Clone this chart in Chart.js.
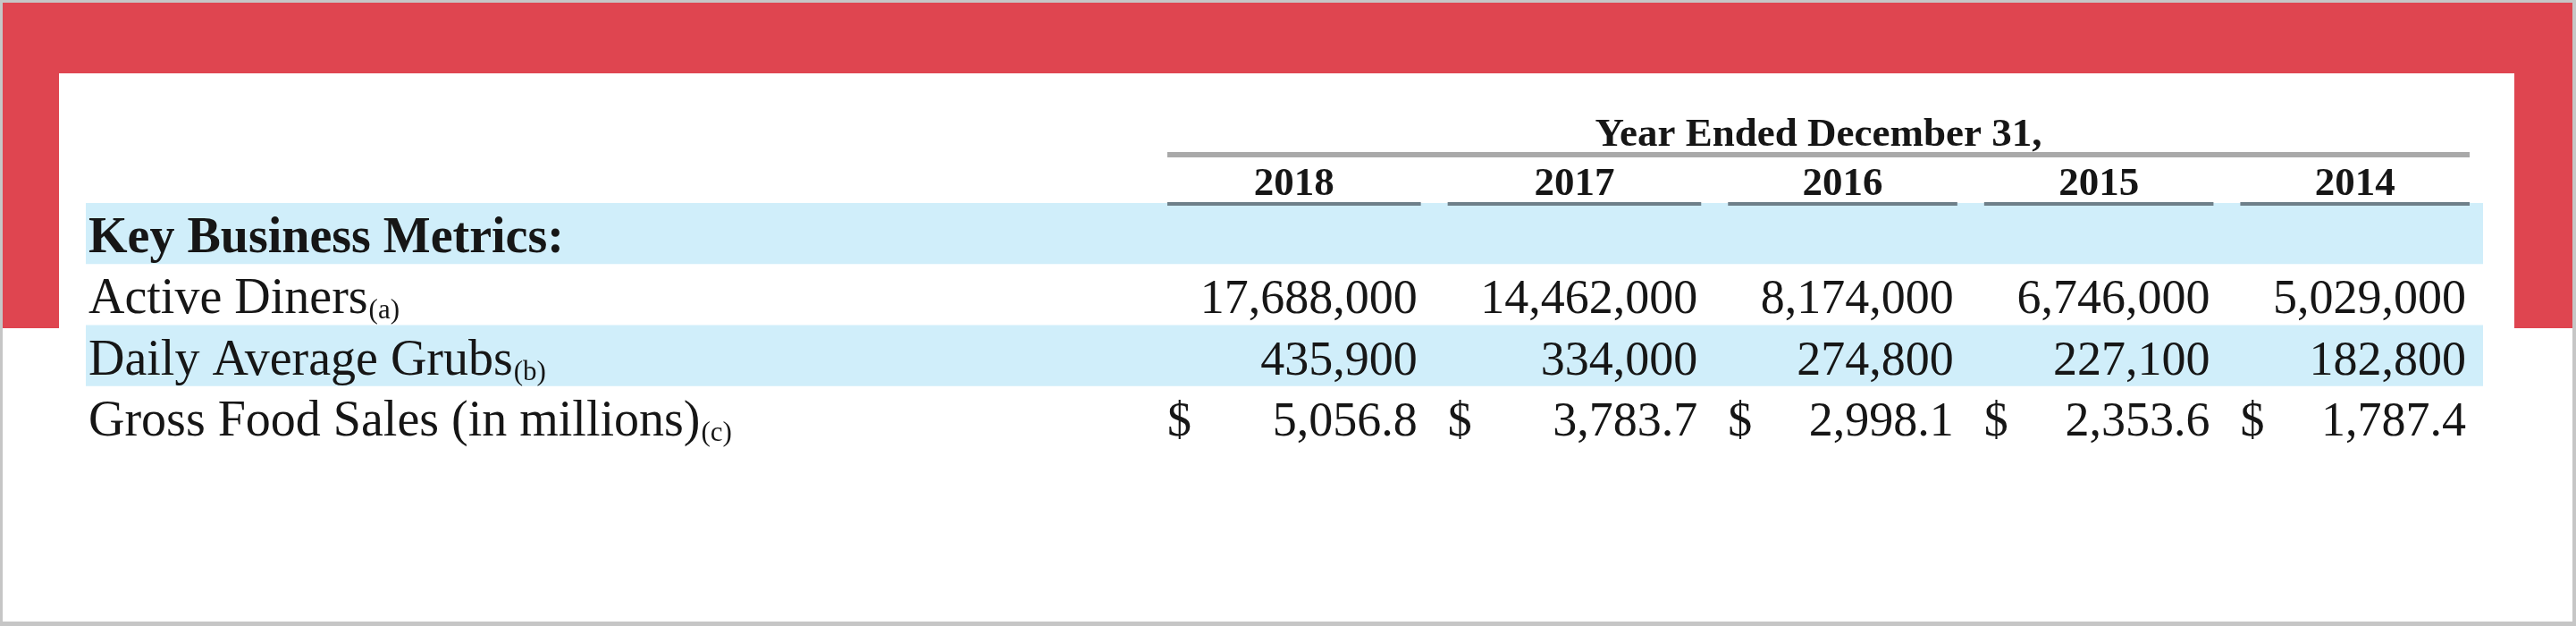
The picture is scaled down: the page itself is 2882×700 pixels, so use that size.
<!DOCTYPE html>
<html>
<head>
<meta charset="utf-8">
<title>Key Business Metrics</title>
<script src="https://cdn.jsdelivr.net/npm/chart.js@4.4.1/dist/chart.umd.min.js"></script>
<style>
  html, body { margin: 0; padding: 0; background: #fff; overflow: hidden; }
  canvas { display: block; }
</style>
</head>
<body>
<canvas id="metrics" width="2882" height="700"></canvas>
<script>
'use strict';

// table content
const headerTitle = 'Year Ended December 31,';
const years = ['2018', '2017', '2016', '2015', '2014'];
const rowNames = ['Key Business Metrics:', 'Active Diners', 'Daily Average Grubs', 'Gross Food Sales (in millions)'];
const rowNotes = ['', '(a)', '(b)', '(c)'];
const activeDiners = [17688000, 14462000, 8174000, 6746000, 5029000];
const dailyAverageGrubs = [435900, 334000, 274800, 227100, 182800];
const grossFoodSales = [5056.8, 3783.7, 2998.1, 2353.6, 1787.4];

const SERIF = '"Liberation Serif", "Times New Roman", serif';
const INK = '#161616';
const RED = '#df4550';
const BAND = '#d0eefa';
const CELL_FONT = '54px ' + SERIF;

function fmtInt(v) {
    return v.toLocaleString('en-US');
}
function fmtMoney(v) {
    return v.toLocaleString('en-US', { minimumFractionDigits: 1, maximumFractionDigits: 1 });
}

// column widths follow their widest entry, like a typeset table
const measure = document.createElement('canvas').getContext('2d');
measure.font = CELL_FONT;
const colW = years.map((_, i) => {
    const texts = [fmtInt(activeDiners[i]), fmtInt(dailyAverageGrubs[i]), '$ ' + fmtMoney(grossFoodSales[i])];
    return Math.max(...texts.map(t => measure.measureText(t).width)) + 70;
});
const colMid = [];
colW.reduce((acc, w) => { colMid.push(acc + w / 2); return acc + w; }, 0);
const colTotal = colW.reduce((a, b) => a + b, 0);

function cells(values, row) {
    return values.map((v, i) => ({ x: colMid[i], y: rowNames[row], v: v }));
}

// frame, bands, headers, labels and cell text
const tablePlugin = {
    id: 'table',
    beforeDraw(chart) {
        const ctx = chart.ctx;
        const W = chart.width, H = chart.height;
        ctx.save();
        ctx.fillStyle = '#c6c6c6';
        ctx.fillRect(0, 0, W, H);
        ctx.fillStyle = '#fff';
        ctx.fillRect(3, 3, W - 7, H - 8);
        ctx.fillStyle = RED;
        ctx.fillRect(3, 3, W - 7, 79);
        ctx.fillRect(3, 3, 63, 364);
        ctx.fillRect(2813, 3, 65, 364);
        ctx.restore();
    },
    beforeDatasetsDraw(chart) {
        const ctx = chart.ctx;
        const x = chart.scales.x, y = chart.scales.y;
        const pitch = y.height / rowNames.length;
        ctx.save();
        ctx.fillStyle = BAND;
        [0, 2].forEach(r => {
            const cy = y.getPixelForValue(r);
            ctx.fillRect(96, cy - pitch / 2, x.right - 96, pitch);
        });
        ctx.restore();
    },
    afterDatasetsDraw(chart) {
        const ctx = chart.ctx;
        const x = chart.scales.x, y = chart.scales.y;
        const top = y.top;
        const half = years.map((_, i) => x.getPixelForValue(colMid[i] + colW[i] / 2) - x.getPixelForValue(colMid[i]) - 15);
        const first = x.getPixelForValue(colMid[0]) - half[0];
        const last = x.getPixelForValue(colMid[years.length - 1]) + half[years.length - 1];

        ctx.save();
        ctx.fillStyle = INK;

        // column header
        ctx.font = 'bold 45px ' + SERIF;
        ctx.textAlign = 'center';
        ctx.textBaseline = 'alphabetic';
        ctx.fillText(headerTitle, (first + last) / 2, top - 64);
        ctx.fillStyle = '#a9a9a9';
        ctx.fillRect(first, top - 57, last - first, 6);

        years.forEach((yr, i) => {
            const cx = x.getPixelForValue(colMid[i]);
            ctx.fillStyle = INK;
            ctx.fillText(yr, cx, top - 9);
            ctx.fillStyle = '#6e7f89';
            ctx.fillRect(cx - half[i], top - 1, half[i] * 2, 4);
        });

        // row labels with footnote marks
        ctx.textAlign = 'left';
        ctx.fillStyle = INK;
        rowNames.forEach((name, r) => {
            const base = y.getPixelForValue(r) + 21;
            ctx.font = (r === 0 ? 'bold ' : '') + '56px ' + SERIF;
            ctx.fillText(name, 99, base);
            if (rowNotes[r]) {
                const w = ctx.measureText(name).width;
                ctx.font = '31px ' + SERIF;
                ctx.fillText(rowNotes[r], 99 + w + 1, base + 6);
            }
        });

        // cell values
        ctx.font = CELL_FONT;
        chart.data.datasets.forEach((ds, d) => {
            const meta = chart.getDatasetMeta(d);
            meta.data.forEach((el, i) => {
                const raw = ds.data[i];
                const base = el.y + 21;
                ctx.textAlign = 'right';
                ctx.fillText(ds.format(raw.v), el.x + half[i] - 4, base);
                if (ds.currency) {
                    ctx.textAlign = 'left';
                    ctx.fillText('$', el.x - half[i], base);
                }
            });
        });
        ctx.restore();
    }
};

const canvas = document.getElementById('metrics');
const table = new Chart(canvas, {
    type: 'scatter',
    data: {
        datasets: [
            { label: rowNames[1], data: cells(activeDiners, 1), format: fmtInt },
            { label: rowNames[2], data: cells(dailyAverageGrubs, 2), format: fmtInt },
            { label: rowNames[3], data: cells(grossFoodSales, 3), format: fmtMoney, currency: true },
        ],
    },
    options: {
        responsive: false,
        animation: false,
        devicePixelRatio: 1,
        layout: { padding: { left: 1291, right: 104, top: 227, bottom: 200 } },
        elements: { point: { radius: 0, hoverRadius: 0 } },
        scales: {
            x: { type: 'linear', min: 0, max: colTotal, display: false },
            y: { type: 'category', labels: rowNames, offset: true, display: false },
        },
        plugins: {
            legend: { display: false },
            tooltip: { enabled: false },
        },
        events: [],
    },
    plugins: [tablePlugin],
});
</script>
</body>
</html>
